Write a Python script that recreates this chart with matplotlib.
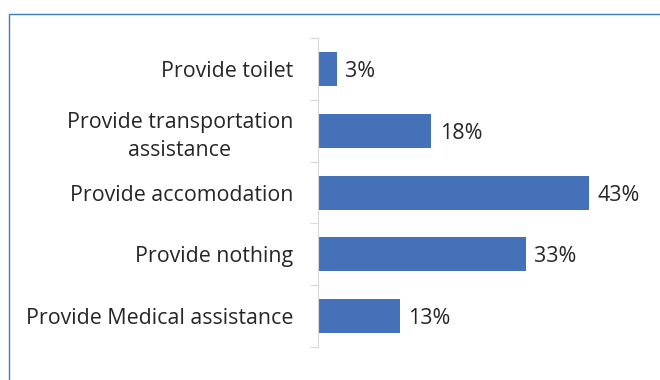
import matplotlib.pyplot as plt
from matplotlib.patches import Rectangle

# survey answers, top to bottom
categories = [
    "Provide toilet",
    "Provide transportation\nassistance",
    "Provide accomodation",
    "Provide nothing",
    "Provide Medical assistance",
]
shares = [3, 18, 43, 33, 13]

plt.rcParams['font.family'] = ['Open Sans', 'DejaVu Sans']
text_color = '#262626'
bar_color = '#4571B9'
axis_gray = '#D9D9D9'

fig = plt.figure(figsize=(6.6, 3.8), dpi=100)
ax = fig.add_axes([0.4818, 0.0868, 0.4773, 0.8132])

pos = list(range(len(categories)))
bars = ax.barh(pos, shares, height=0.55, color=bar_color)
value_labels = ax.bar_label(bars, labels=[f"{v}%" for v in shares], padding=6,
                            fontsize=15.4, color=text_color)
for t in value_labels:
    t.set_va('center_baseline')

ax.set_xlim(0, 50)
ax.set_ylim(len(categories) - 0.5, -0.5)

ax.set_yticks(pos)
ax.set_yticklabels(categories, fontsize=15.4, color=text_color,
                   multialignment='center', linespacing=1.4)
ax.tick_params(axis='y', which='major', length=0, pad=18)
ax.set_yticks([p - 0.5 for p in pos] + [len(pos) - 0.5], minor=True)
ax.tick_params(axis='y', which='minor', length=5.8, width=0.8, color=axis_gray)
ax.set_xticks([])

for side in ['top', 'right', 'bottom']:
    ax.spines[side].set_visible(False)
ax.spines['left'].set_color(axis_gray)
ax.spines['left'].set_linewidth(0.8)

# chart frame, cut off at the right and bottom edges
fig.patches.append(Rectangle((9 / 660, -0.1), 1.2, 1.1 - 14 / 380,
                             transform=fig.transFigure, fill=False,
                             edgecolor='#3C7DC0', linewidth=1.0))

fig.savefig('out.png', dpi=100)
